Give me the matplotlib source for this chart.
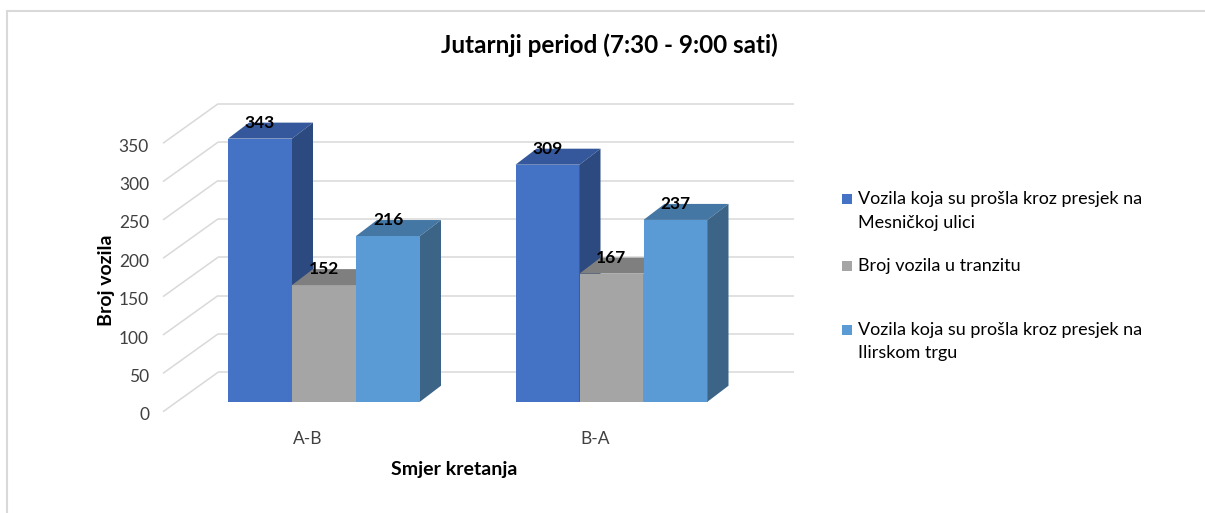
import matplotlib
matplotlib.use("Agg")
import matplotlib.pyplot as plt
from matplotlib.patches import Polygon, Rectangle

plt.rcParams['font.family'] = ['Lato', 'DejaVu Sans']

title = "Jutarnji period (7:30 - 9:00 sati)"
categories = ["A-B", "B-A"]
series_names = [["Vozila koja su prošla kroz presjek na", "Mesničkoj ulici"],
                ["Broj vozila u tranzitu"],
                ["Vozila koja su prošla kroz presjek na", "Ilirskom trgu"]]
mesnicka = [343, 309]
tranzit = [152, 167]
ilirski = [216, 237]
yticks = [0, 50, 100, 150, 200, 250, 300, 350]
xlabel = "Smjer kretanja"
ylabel = "Broj vozila"

series = [mesnicka, tranzit, ilirski]
front_cols = ["#4472C4", "#A5A5A5", "#5B9BD5"]
top_cols = ["#34589B", "#7F7F7F", "#4577A4"]
side_cols = ["#2C4A80", "#7A7A7A", "#3B6487"]

W, H = 1205, 513
fig = plt.figure(figsize=(W / 100, H / 100), dpi=100)

# pixel geometry helpers (layout only)
PXX = 287.5   # px per category unit
PXV = 0.767   # px per value unit
X0PX, Y0PX = 324.0, 401.7
L, R, T, B = 100, 820, 60, 460
ax = fig.add_axes([L / W, (H - B) / H, (R - L) / W, (B - T) / H])
ax.set_xlim((L - X0PX) / PXX, (R - X0PX) / PXX)
ax.set_ylim((Y0PX - B) / PXV, (Y0PX - T) / PXV)
ax.axis('off')

def dx(px):
    return px / PXX

def dv(px):
    return px / PXV

grid_col = "#D9D9D9"
xb0, xb1 = dx(218 - X0PX), dx(794 - X0PX)
xf0 = dx(163 - X0PX)
back_dv = dv(29.4)
front_dv = dv(-10)
for v in yticks:
    ax.plot([xb0, xb1], [v + back_dv] * 2, color=grid_col, lw=1.1, zorder=1,
            solid_capstyle='butt')
    ax.plot([xf0, xb0], [v + front_dv, v + back_dv], color=grid_col, lw=1.1,
            zorder=1, solid_capstyle='butt')
    ax.text(xf0 - dx(14), v + front_dv + dv(-3.5), str(v), ha='right', va='center',
            fontsize=12.5, color='#404040')

bw = dx(64)
ddx, ddv = dx(21), dv(16)
for i, cat in enumerate(categories):
    for j, vals in enumerate(series):
        v = vals[i]
        xl = i + (j - 1) * bw - bw / 2
        xr = xl + bw
        z = 2 + j * 0.1 + i
        ax.add_patch(Rectangle((xl, 0), bw, v, facecolor=front_cols[j],
                               edgecolor='none', zorder=z))
        ax.add_patch(Polygon([(xl, v), (xr, v), (xr + ddx, v + ddv), (xl + ddx, v + ddv)],
                             closed=True, facecolor=top_cols[j], edgecolor='none', zorder=z))
        ax.add_patch(Polygon([(xr, 0), (xr, v), (xr + ddx, v + ddv), (xr + ddx, ddv)],
                             closed=True, facecolor=side_cols[j], edgecolor='none', zorder=z))
        ax.text((xl + xr) / 2, v + ddv, str(v), ha='center', va='center',
                fontsize=12.5, fontweight='bold', color='black', zorder=10)
    ax.text(i - dx(16), dv(Y0PX - 439), cat, ha='center', va='center',
            fontsize=12.5, color='#404040')

# axis titles
fig.text(454.5 / W, 1 - 470 / H, xlabel, ha='center', va='center',
         fontsize=14, fontweight='bold', color='black')
fig.text(106 / W, 1 - 280 / H, ylabel, ha='center', va='center', rotation=90,
         fontsize=14, fontweight='bold', color='black')
fig.text(609 / W, 1 - 45 / H, title, ha='center', va='center',
         fontsize=17.5, fontweight='bold', color='black')

# legend
leg_rows = [[199, 223], [266], [330, 353]]
sq = 10.5
for j, lines in enumerate(series_names):
    y0 = leg_rows[j][0]
    fig.patches.append(Rectangle(((847 - sq / 2) / W, 1 - (y0 + sq / 2) / H),
                                 sq / W, sq / H, transform=fig.transFigure,
                                 facecolor=front_cols[j], edgecolor='none'))
    for line, y in zip(lines, leg_rows[j]):
        fig.text(858 / W, 1 - y / H, line, ha='left', va='center',
                 fontsize=13, color='black')

# chart border
fig.patches.append(Rectangle((7.5 / W, -0.1), 1.2, 1 - 11.5 / H + 0.1,
                             transform=fig.transFigure, facecolor='none',
                             edgecolor='#D9D9D9', lw=1.5))

fig.savefig("out.png", dpi=100)
